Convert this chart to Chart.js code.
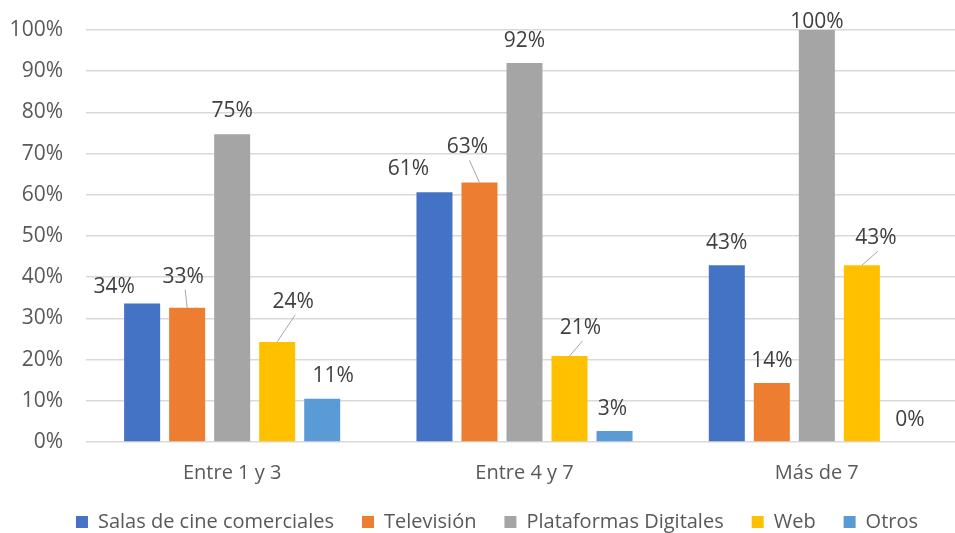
<!DOCTYPE html>
<html>
<head>
<meta charset="utf-8">
<script src="https://cdn.jsdelivr.net/npm/chart.js@4.4.1/dist/chart.umd.min.js"></script>
<style>
  html, body { margin: 0; padding: 0; background: #fff; overflow: hidden; }
  #wrap { width: 955px; height: 533px; overflow: hidden; position: relative; }
  canvas { position: absolute; left: 0; top: 0; }
</style>
</head>
<body>
<div id="wrap"><canvas id="chart" width="994" height="545"></canvas></div>
<script>
const categories = ["Entre 1 y 3", "Entre 4 y 7", "Más de 7"];
const seriesNames = ["Salas de cine comerciales", "Televisión", "Plataformas Digitales", "Web", "Otros"];
const salasCine = [33.6, 60.6, 42.9];
const television = [32.6, 63.0, 14.3];
const plataformas = [74.7, 92.0, 100];
const web = [24.3, 20.9, 42.9];
const otros = [10.5, 2.7, 0];
const yTicks = [0, 10, 20, 30, 40, 50, 60, 70, 80, 90, 100];

const colors = ["#4472C4", "#ED7D31", "#A5A5A5", "#FFC000", "#5B9BD5"];
const FONT = "'Open Sans', Lato, sans-serif";

// manual label nudges (dx, dy) like the hand-placed labels in the original, and which ones get a leader line
const labelShift = [
    [[-28, 5], [-26, -1], [0, 0]],
    [[-4, -9], [-12, -13], [0, 0]],
    [[0, -1], [0, 0], [0, 14]],
    [[16, -18], [11, -6], [14, -5]],
    [[11, -1], [-2, 0], [3, 0]]
];
const leader = [
    [false, false, false],
    [true, true, false],
    [false, false, false],
    [true, true, true],
    [false, false, false]
];

const barLabels = {
    id: "barLabels",
    afterDatasetsDraw(chart) {
        const ctx = chart.ctx;
        ctx.save();
        ctx.font = "21px " + FONT;
        ctx.fillStyle = "#404040";
        ctx.textAlign = "center";
        ctx.textBaseline = "middle";
        chart.data.datasets.forEach((ds, i) => {
            const meta = chart.getDatasetMeta(i);
            meta.data.forEach((bar, j) => {
                const [dx, dy] = labelShift[i][j];
                const lx = bar.x + dx;
                const ly = bar.y - 22 + dy;
                if (leader[i][j]) {
                    ctx.strokeStyle = "#A6A6A6";
                    ctx.lineWidth = 1;
                    ctx.beginPath();
                    ctx.moveTo(lx + 2, ly + 13);
                    ctx.lineTo(bar.x, bar.y);
                    ctx.stroke();
                }
                ctx.fillText(Math.round(ds.data[j]) + "%", lx, ly);
            });
        });
        ctx.restore();
    }
};

const values = [salasCine, television, plataformas, web, otros];

new Chart(document.getElementById("chart").getContext("2d"), {
    type: "bar",
    data: {
        labels: categories,
        datasets: seriesNames.map((name, i) => ({
            label: name,
            data: values[i],
            backgroundColor: colors[i],
            borderWidth: 0,
            categoryPercentage: 0.77,
            barPercentage: 0.8
        }))
    },
    options: {
        responsive: false,
        animation: false,
        layout: { padding: { top: 30, left: 0, right: 0, bottom: 3 } },
        plugins: {
            legend: {
                position: "bottom",
                labels: {
                    boxWidth: 12,
                    boxHeight: 12,
                    padding: 28,
                    color: "#595959",
                    font: { family: FONT, size: 20 }
                }
            },
            tooltip: { enabled: false }
        },
        scales: {
            x: {
                grid: { display: false },
                border: { display: false },
                ticks: { color: "#595959", font: { family: FONT, size: 20 }, padding: 11 },
                afterFit(s) { s.height = 42; }
            },
            y: {
                min: 0,
                max: 100,
                afterBuildTicks(s) { s.ticks = yTicks.map(v => ({ value: v })); },
                grid: { color: "#D9D9D9", lineWidth: 1.5, drawTicks: false },
                border: { display: false },
                ticks: {
                    color: "#595959",
                    font: { family: FONT, size: 21 },
                    padding: 23,
                    callback: v => v + "%"
                },
                afterFit(s) {
                    s.width = 86;
                    s.paddingTop = 0;
                    s.paddingBottom = 0;
                }
            },
            pad: {
                position: "right",
                display: true,
                grid: { display: false },
                border: { display: false },
                ticks: { display: false },
                afterFit(s) { s.width = 31; }
            }
        }
    },
    plugins: [barLabels]
});
</script>
</body>
</html>
